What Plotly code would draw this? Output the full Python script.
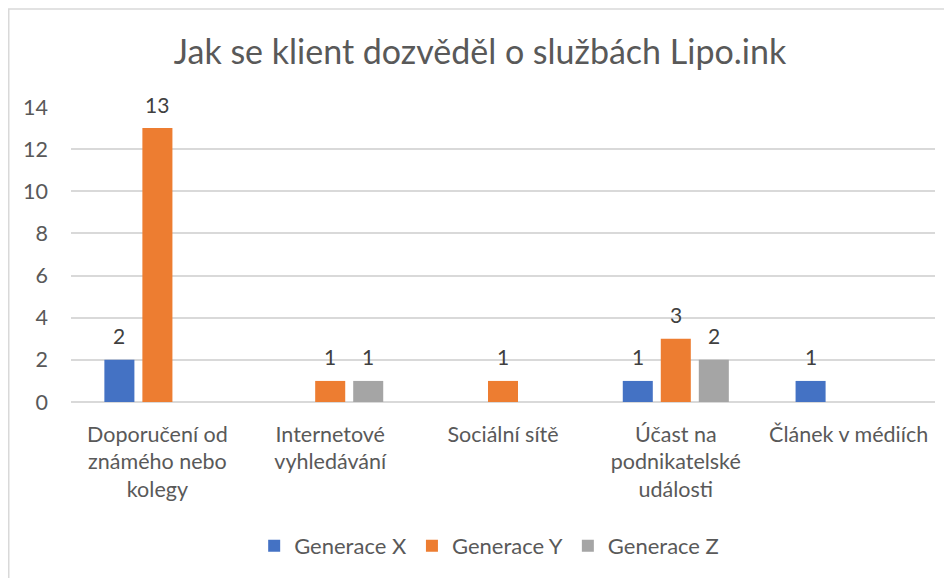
import plotly.graph_objects as go

categories = ["Doporučení od<br>známého nebo<br>kolegy", "Internetové<br>vyhledávání",
              "Sociální sítě", "Účast na<br>podnikatelské<br>události", "Článek v médiích"]
gen_x = [2, None, None, 1, 1]
gen_y = [13, 1, 1, 3, None]
gen_z = [None, 1, None, 2, None]
series_names = ["Generace X", "Generace Y", "Generace Z"]
colors = ["#4472C4", "#ED7D31", "#A5A5A5"]
y_ticks = [0, 2, 4, 6, 8, 10, 12, 14]

FONT = "Lato"
TXT = "#595959"
W, H = 944, 570
L, R, T, B = 63, 17, 99, 175
BARGAP = 0.34
slot_px = (W - L - R) / len(categories) * (1 - BARGAP) / 3

fig = go.Figure()
annotations = []
for i, (name, vals, col) in enumerate(zip(series_names, [gen_x, gen_y, gen_z], colors)):
    fig.add_trace(go.Bar(
        x=categories, y=vals, name=name, marker=dict(color=col, line=dict(width=0)),
    ))
    for cat, v in zip(categories, vals):
        if v is None:
            continue
        annotations.append(dict(
            x=cat, y=v, xref="x", yref="y", text=str(v), showarrow=False,
            xshift=(i - 1) * slot_px, yshift=24, yanchor="middle", xanchor="center",
            font=dict(family=FONT, size=21, color="#404040"),
        ))

fig.update_layout(
    width=W, height=H,
    margin=dict(l=L, r=R, t=T, b=B),
    paper_bgcolor="white", plot_bgcolor="white",
    barmode="group", bargap=BARGAP, bargroupgap=0.21,
    title=dict(text="Jak se klient dozvěděl o službách Lipo.ink", x=0.5, xanchor="center",
               y=1 - 44 / H, yanchor="middle", yref="container",
               font=dict(family=FONT, size=34, color=TXT)),
    font=dict(family=FONT, color=TXT),
    legend=dict(orientation="h", x=0.484, xanchor="center", y=-0.483, yanchor="middle",
                font=dict(family=FONT, size=22, color=TXT), traceorder="normal"),
    xaxis=dict(showline=False, showgrid=False, ticks="", tickfont=dict(family=FONT, size=21.5, color=TXT),
               ticklabelstandoff=17),
    yaxis=dict(range=[0, 14], tickvals=y_ticks, showgrid=True, gridcolor="#D9D9D9", gridwidth=1.5,
               zeroline=True, zerolinecolor="#D9D9D9", zerolinewidth=1.5,
               tickfont=dict(family=FONT, size=21.5, color=TXT), ticklabelstandoff=22),
    annotations=annotations,
    shapes=[dict(type="rect", xref="paper", yref="paper", x0=-0.07205, x1=1.2, y0=-1.0, y1=1.3319,
                 line=dict(color="#D9D9D9", width=1.5), fillcolor="rgba(0,0,0,0)", layer="below")],
)

fig.write_html("out.html")
